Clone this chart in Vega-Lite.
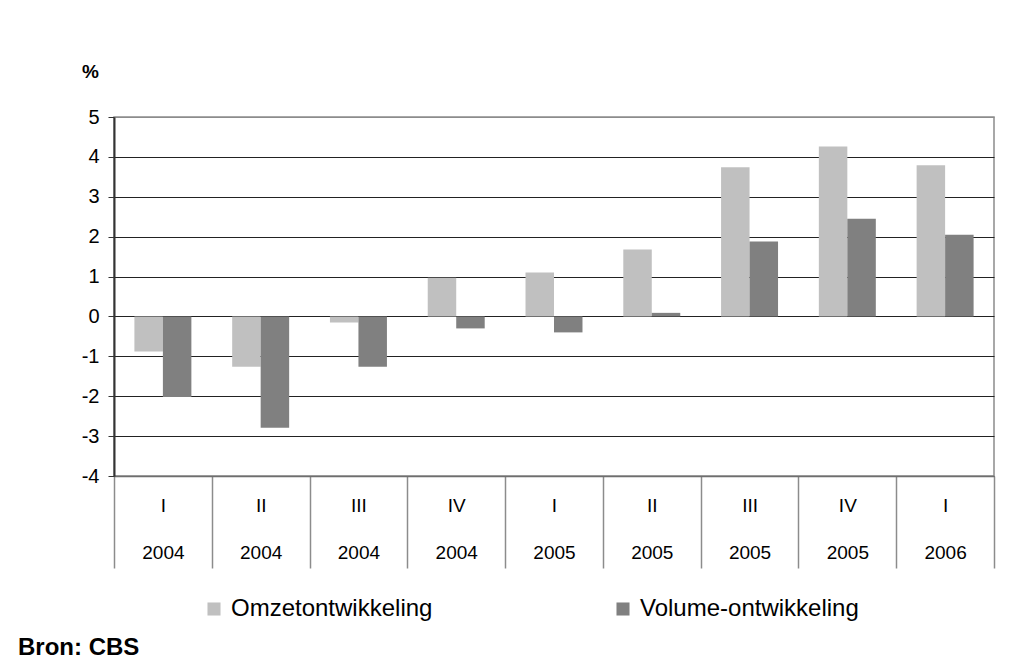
{
  "$schema": "https://vega.github.io/schema/vega-lite/v6.json",
  "autosize": "none",
  "width": 880,
  "height": 359,
  "padding": {"left": 114, "top": 117, "right": 16, "bottom": 193},
  "background": "white",
  "config": {
    "font": "Liberation Sans",
    "view": {"stroke": "#8c8c8c", "strokeWidth": 1.5}
  },
  "title": {
    "text": "Bron: CBS",
    "orient": "bottom",
    "anchor": "start",
    "frame": "group",
    "dx": -96,
    "offset": 15,
    "fontSize": 24,
    "fontWeight": "bold",
    "color": "#000"
  },
  "data": {
    "values": [
      {"cat": "I|2004", "series": "Omzetontwikkeling", "value": -0.88},
      {"cat": "I|2004", "series": "Volume-ontwikkeling", "value": -2.02},
      {"cat": "II|2004", "series": "Omzetontwikkeling", "value": -1.26},
      {"cat": "II|2004", "series": "Volume-ontwikkeling", "value": -2.79},
      {"cat": "III|2004", "series": "Omzetontwikkeling", "value": -0.15},
      {"cat": "III|2004", "series": "Volume-ontwikkeling", "value": -1.26},
      {"cat": "IV|2004", "series": "Omzetontwikkeling", "value": 0.97},
      {"cat": "IV|2004", "series": "Volume-ontwikkeling", "value": -0.3},
      {"cat": "I|2005", "series": "Omzetontwikkeling", "value": 1.1},
      {"cat": "I|2005", "series": "Volume-ontwikkeling", "value": -0.4},
      {"cat": "II|2005", "series": "Omzetontwikkeling", "value": 1.68},
      {"cat": "II|2005", "series": "Volume-ontwikkeling", "value": 0.09},
      {"cat": "III|2005", "series": "Omzetontwikkeling", "value": 3.74},
      {"cat": "III|2005", "series": "Volume-ontwikkeling", "value": 1.88},
      {"cat": "IV|2005", "series": "Omzetontwikkeling", "value": 4.26},
      {"cat": "IV|2005", "series": "Volume-ontwikkeling", "value": 2.45},
      {"cat": "I|2006", "series": "Omzetontwikkeling", "value": 3.79},
      {"cat": "I|2006", "series": "Volume-ontwikkeling", "value": 2.05}
    ]
  },
  "mark": {"type": "bar"},
  "encoding": {
    "x": {
      "field": "cat",
      "type": "nominal",
      "sort": null,
      "scale": {"paddingInner": 0, "paddingOuter": 0},
      "axis": {
        "title": null,
        "tickBand": "extent",
        "tickSize": 92,
        "tickColor": "#8c8c8c",
        "tickWidth": 1.5,
        "domainColor": "#6e6e6e",
        "domainWidth": 1.5,
        "grid": false,
        "labelAngle": 0,
        "labelExpr": "split(datum.label, '|')",
        "labelLineHeight": 47,
        "labelPadding": -72,
        "labelFontSize": 19,
        "labelColor": "#000",
        "labelOverlap": false,
        "labelFlush": false
      }
    },
    "xOffset": {
      "field": "series",
      "type": "nominal",
      "sort": ["Omzetontwikkeling", "Volume-ontwikkeling"],
      "scale": {"paddingInner": 0, "paddingOuter": 0.716}
    },
    "y": {
      "field": "value",
      "type": "quantitative",
      "scale": {"domain": [-4, 5], "nice": false, "zero": false},
      "axis": {
        "values": [-4, -3, -2, -1, 0, 1, 2, 3, 4, 5],
        "labelExpr": "'' + datum.value",
        "title": "%",
        "titleAngle": 0,
        "titleX": -24,
        "titleY": -46,
        "titleAlign": "center",
        "titleBaseline": "middle",
        "titleFontSize": 19,
        "titleFontWeight": "bold",
        "titleColor": "#000",
        "grid": true,
        "gridColor": {"condition": {"test": "datum.value === 5", "value": "#8c8c8c"}, "value": "#222"},
        "gridWidth": 1.2,
        "domainColor": "#333",
        "domainWidth": 2,
        "tickColor": "#333",
        "tickSize": 6,
        "labelPadding": 9,
        "labelFontSize": 20,
        "labelColor": "#000"
      }
    },
    "color": {
      "field": "series",
      "type": "nominal",
      "scale": {"domain": ["Omzetontwikkeling", "Volume-ontwikkeling"], "range": ["#c0c0c0", "#808080"]},
      "legend": {
        "title": null,
        "orient": "none",
        "direction": "horizontal",
        "legendX": 88,
        "legendY": 480,
        "symbolType": "square",
        "symbolSize": 170,
        "symbolStrokeWidth": 0,
        "labelFontSize": 24,
        "labelColor": "#000",
        "labelOffset": 5,
        "labelLimit": 400,
        "columnPadding": 178
      }
    }
  }
}
